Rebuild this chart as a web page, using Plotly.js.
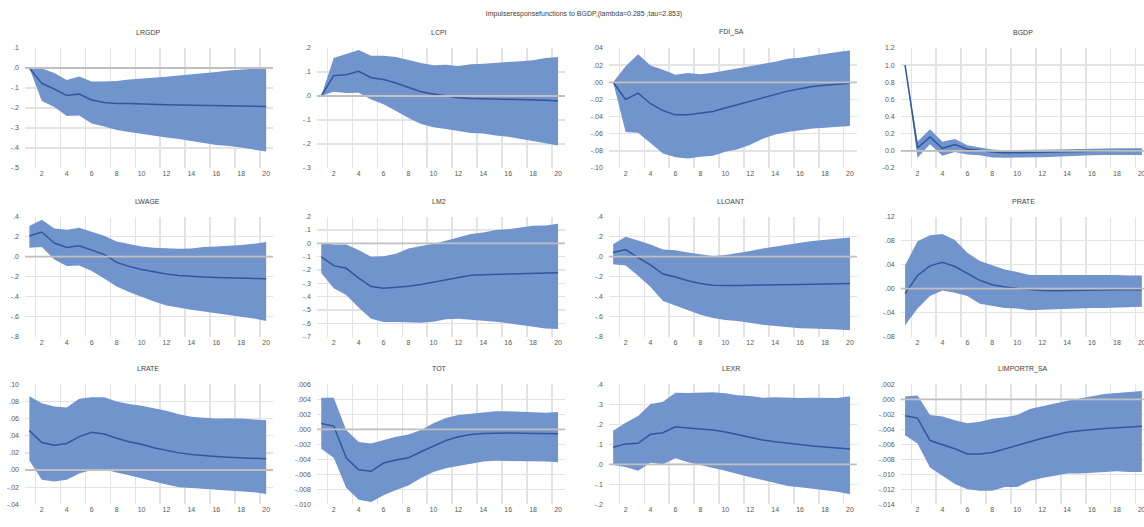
<!DOCTYPE html>
<html>
<head>
<meta charset="utf-8">
<script src="https://cdn.plot.ly/plotly-3.0.1.min.js"></script>
<style>
  html, body { margin: 0; padding: 0; background: #ffffff; }
  #chart { width: 1144px; height: 527px; }
</style>
</head>
<body>
<div id="chart"></div>
<script>
// ---------------- DATA ----------------
const periods = [1,2,3,4,5,6,7,8,9,10,11,12,13,14,15,16,17,18,19,20];
const xTickVals = [2,4,6,8,10,12,14,16,18,20];
const xTickText = ['2','4','6','8','10','12','14','16','18','20'];
const xGridVals = [1.5,3.5,5.5,7.5,9.5,11.5,13.5,15.5,17.5,19.5];

const mainTitle = 'Impulseresponsefunctions to BGDP,(lambda=0.285 ,tau=2.853)';
const panelNames = ['LRGDP','LCPI','FDI_SA','BGDP','LWAGE','LM2','LLOANT','PRATE','LRATE','TOT','LEXR','LIMPORTR_SA'];

// LRGDP
const LRGDP_mean = [0,-0.077,-0.105,-0.138,-0.130,-0.160,-0.172,-0.177,-0.178,-0.181,-0.183,-0.184,-0.185,-0.186,-0.187,-0.188,-0.189,-0.190,-0.191,-0.192];
const LRGDP_hi   = [0,-0.002,-0.025,-0.060,-0.043,-0.067,-0.068,-0.065,-0.058,-0.054,-0.050,-0.044,-0.038,-0.033,-0.027,-0.020,-0.013,-0.008,-0.004,0.005];
const LRGDP_lo   = [0,-0.165,-0.195,-0.240,-0.238,-0.278,-0.293,-0.310,-0.320,-0.330,-0.338,-0.347,-0.355,-0.365,-0.377,-0.385,-0.390,-0.397,-0.408,-0.417];
const LRGDP_yticks = [0.1,0,-0.1,-0.2,-0.3,-0.4,-0.5];
const LRGDP_ylabels = ['.1','.0','-.1','-.2','-.3','-.4','-.5'];

// LCPI
const LCPI_mean = [0,0.085,0.089,0.103,0.076,0.069,0.054,0.035,0.018,0.008,0.000,-0.007,-0.010,-0.011,-0.013,-0.014,-0.015,-0.017,-0.018,-0.021];
const LCPI_hi   = [0,0.158,0.175,0.192,0.168,0.168,0.162,0.149,0.137,0.128,0.130,0.125,0.132,0.134,0.139,0.142,0.145,0.149,0.158,0.162];
const LCPI_lo   = [0,0.018,0.013,0.014,-0.015,-0.034,-0.062,-0.092,-0.117,-0.130,-0.137,-0.145,-0.154,-0.156,-0.165,-0.170,-0.180,-0.189,-0.197,-0.206];
const LCPI_yticks = [0.2,0.1,0,-0.1,-0.2,-0.3];
const LCPI_ylabels = ['.2','.1','.0','-.1','-.2','-.3'];

// FDI_SA
const FDI_SA_mean = [0,-0.020,-0.0127,-0.025,-0.033,-0.038,-0.0378,-0.036,-0.034,-0.030,-0.026,-0.022,-0.018,-0.014,-0.0103,-0.0076,-0.005,-0.0036,-0.0024,-0.0012];
const FDI_SA_hi   = [0,0.0187,0.0326,0.0195,0.0147,0.0088,0.0107,0.0095,0.011,0.0135,0.016,0.019,0.0215,0.024,0.0275,0.0287,0.031,0.0334,0.0354,0.037];
const FDI_SA_lo   = [0,-0.058,-0.059,-0.071,-0.083,-0.0876,-0.0888,-0.0868,-0.0856,-0.081,-0.078,-0.073,-0.066,-0.061,-0.058,-0.056,-0.054,-0.053,-0.052,-0.051];
const FDI_SA_yticks = [0.04,0.02,0,-0.02,-0.04,-0.06,-0.08,-0.10];
const FDI_SA_ylabels = ['.04','.02','.00','-.02','-.04','-.06','-.08','-.10'];

// BGDP
const BGDP_mean = [1.0,0.035,0.163,0.030,0.075,0.020,0.008,-0.012,-0.023,-0.023,-0.020,-0.016,-0.012,-0.008,-0.004,0.000,0.003,0.004,0.004,0.005];
const BGDP_hi   = [1.0,0.110,0.253,0.105,0.137,0.066,0.040,0.015,0.007,0.007,0.007,0.011,0.015,0.020,0.024,0.027,0.030,0.030,0.030,0.030];
const BGDP_lo   = [1.0,-0.080,0.077,-0.057,-0.012,-0.043,-0.050,-0.078,-0.080,-0.080,-0.078,-0.074,-0.070,-0.062,-0.055,-0.050,-0.047,-0.047,-0.047,-0.047];
const BGDP_yticks = [1.2,1.0,0.8,0.6,0.4,0.2,0,-0.2];
const BGDP_ylabels = ['1.2','1.0','0.8','0.6','0.4','0.2','0.0','-0.2'];

// LWAGE
const LWAGE_mean = [0.207,0.247,0.137,0.093,0.110,0.070,0.023,-0.057,-0.097,-0.127,-0.153,-0.173,-0.187,-0.197,-0.203,-0.207,-0.210,-0.213,-0.217,-0.220];
const LWAGE_hi   = [0.307,0.370,0.283,0.270,0.290,0.247,0.210,0.153,0.127,0.103,0.090,0.083,0.080,0.083,0.097,0.103,0.107,0.117,0.130,0.147];
const LWAGE_lo   = [0.090,0.097,-0.027,-0.093,-0.087,-0.143,-0.217,-0.297,-0.353,-0.403,-0.447,-0.487,-0.510,-0.530,-0.547,-0.567,-0.583,-0.600,-0.617,-0.643];
const LWAGE_yticks = [0.4,0.2,0,-0.2,-0.4,-0.6,-0.8];
const LWAGE_ylabels = ['.4','.2','.0','-.2','-.4','-.6','-.8'];

// LM2
const LM2_mean = [-0.101,-0.167,-0.187,-0.261,-0.324,-0.337,-0.329,-0.322,-0.309,-0.291,-0.271,-0.253,-0.240,-0.235,-0.233,-0.230,-0.230,-0.228,-0.225,-0.220];
const LM2_hi   = [0.003,-0.008,-0.008,-0.050,-0.101,-0.096,-0.078,-0.038,-0.020,-0.003,0.020,0.046,0.071,0.081,0.101,0.106,0.119,0.132,0.134,0.147];
const LM2_lo   = [-0.223,-0.337,-0.387,-0.481,-0.565,-0.590,-0.590,-0.590,-0.595,-0.587,-0.570,-0.565,-0.572,-0.582,-0.587,-0.600,-0.613,-0.628,-0.638,-0.643];
const LM2_yticks = [0.2,0.1,0,-0.1,-0.2,-0.3,-0.4,-0.5,-0.6,-0.7];
const LM2_ylabels = ['.2','.1','.0','-.1','-.2','-.3','-.4','-.5','-.6','-.7'];

// LLOANT
const LLOANT_mean = [0.041,0.071,-0.010,-0.081,-0.173,-0.203,-0.241,-0.268,-0.285,-0.288,-0.288,-0.285,-0.285,-0.281,-0.278,-0.278,-0.275,-0.275,-0.271,-0.268];
const LLOANT_hi   = [0.125,0.200,0.163,0.122,0.071,0.064,0.041,0.024,0.007,0.017,0.041,0.058,0.081,0.102,0.122,0.139,0.156,0.169,0.183,0.193];
const LLOANT_lo   = [-0.075,-0.088,-0.190,-0.302,-0.444,-0.488,-0.536,-0.580,-0.614,-0.634,-0.644,-0.664,-0.681,-0.692,-0.705,-0.715,-0.719,-0.722,-0.729,-0.736];
const LLOANT_yticks = [0.4,0.2,0,-0.2,-0.4,-0.6,-0.8];
const LLOANT_ylabels = ['.4','.2','.0','-.2','-.4','-.6','-.8'];

// PRATE
const PRATE_mean = [-0.0083,0.022,0.038,0.044,0.037,0.025,0.014,0.0067,0.0028,0.0006,-0.0017,-0.0028,-0.0033,-0.0028,-0.0022,-0.0017,-0.0017,-0.0017,-0.0017,-0.0017];
const PRATE_hi   = [0.039,0.079,0.089,0.091,0.081,0.060,0.046,0.039,0.032,0.028,0.023,0.023,0.023,0.023,0.024,0.024,0.024,0.023,0.022,0.022];
const PRATE_lo   = [-0.061,-0.033,-0.012,-0.0028,-0.0067,-0.012,-0.025,-0.028,-0.032,-0.033,-0.036,-0.035,-0.034,-0.033,-0.032,-0.032,-0.032,-0.031,-0.030,-0.030];
const PRATE_yticks = [0.12,0.08,0.04,0,-0.04,-0.08];
const PRATE_ylabels = ['.12','.08','.04','.00','-.04','-.08'];

// LRATE
const LRATE_mean = [0.046,0.032,0.029,0.031,0.039,0.044,0.042,0.037,0.033,0.030,0.026,0.023,0.020,0.018,0.0165,0.0158,0.015,0.0142,0.0138,0.013];
const LRATE_hi   = [0.086,0.078,0.074,0.073,0.083,0.085,0.085,0.080,0.077,0.075,0.072,0.069,0.065,0.062,0.061,0.060,0.060,0.060,0.059,0.058];
const LRATE_lo   = [0.011,-0.0115,-0.0135,-0.0115,-0.004,0.000,0.001,-0.003,-0.006,-0.010,-0.0135,-0.017,-0.020,-0.021,-0.022,-0.0235,-0.024,-0.025,-0.026,-0.028];
const LRATE_yticks = [0.10,0.08,0.06,0.04,0.02,0,-0.02,-0.04];
const LRATE_ylabels = ['.10','.08','.06','.04','.02','.00','-.02','-.04'];

// TOT
const TOT_mean = [0.00078,0.00043,-0.0038,-0.0054,-0.0056,-0.0045,-0.0041,-0.0038,-0.0030,-0.0022,-0.0015,-0.0010,-0.0007,-0.00057,-0.00048,-0.00048,-0.00052,-0.00057,-0.00057,-0.0006];
const TOT_hi   = [0.0042,0.0042,-0.0001,-0.0017,-0.0019,-0.0014,-0.0010,-0.0007,-0.0001,0.0008,0.0015,0.0019,0.0021,0.0023,0.0024,0.0024,0.0023,0.0023,0.0022,0.0023];
const TOT_lo   = [-0.0026,-0.0038,-0.0078,-0.0094,-0.0097,-0.0088,-0.0081,-0.0075,-0.0065,-0.0057,-0.0052,-0.0049,-0.0047,-0.0043,-0.0042,-0.0042,-0.0043,-0.0043,-0.0043,-0.0044];
const TOT_yticks = [0.006,0.004,0.002,0,-0.002,-0.004,-0.006,-0.008,-0.010];
const TOT_ylabels = ['.006','.004','.002','.000','-.002','-.004','-.006','-.008','-.010'];

// LEXR
const LEXR_mean = [0.085,0.102,0.105,0.150,0.158,0.188,0.182,0.178,0.172,0.162,0.148,0.135,0.122,0.113,0.105,0.098,0.092,0.087,0.082,0.077];
const LEXR_hi   = [0.168,0.208,0.242,0.302,0.313,0.358,0.357,0.358,0.360,0.355,0.345,0.342,0.333,0.335,0.333,0.332,0.333,0.332,0.332,0.340];
const LEXR_lo   = [-0.003,-0.013,-0.032,0.008,0.000,0.030,0.010,-0.003,-0.017,-0.032,-0.048,-0.065,-0.078,-0.092,-0.108,-0.115,-0.122,-0.128,-0.137,-0.150];
const LEXR_yticks = [0.4,0.3,0.2,0.1,0,-0.1,-0.2];
const LEXR_ylabels = ['.4','.3','.2','.1','.0','-.1','-.2'];

// LIMPORTR_SA
const LIMPORTR_SA_mean = [-0.0022,-0.0025,-0.0055,-0.0060,-0.0066,-0.0073,-0.0073,-0.0071,-0.0066,-0.0061,-0.0057,-0.0052,-0.0048,-0.0044,-0.0042,-0.0040,-0.0039,-0.0038,-0.0037,-0.0036];
const LIMPORTR_SA_hi   = [0.00036,0.0005,-0.0021,-0.0023,-0.0028,-0.0032,-0.0030,-0.0026,-0.0024,-0.0021,-0.0013,-0.0009,-0.0005,-0.0002,0.0001,0.00036,0.0007,0.00085,0.00094,0.0011];
const LIMPORTR_SA_lo   = [-0.0048,-0.0059,-0.0091,-0.0102,-0.0113,-0.0120,-0.0122,-0.0122,-0.0117,-0.0117,-0.0109,-0.0105,-0.0102,-0.0099,-0.0099,-0.0098,-0.0096,-0.0096,-0.0097,-0.0097];
const LIMPORTR_SA_yticks = [0.002,0,-0.002,-0.004,-0.006,-0.008,-0.010,-0.012,-0.014];
const LIMPORTR_SA_ylabels = ['.002','.000','-.002','-.004','-.006','-.008','-.010','-.012','-.014'];

const panels = [
  [LRGDP_mean, LRGDP_lo, LRGDP_hi, LRGDP_yticks, LRGDP_ylabels],
  [LCPI_mean, LCPI_lo, LCPI_hi, LCPI_yticks, LCPI_ylabels],
  [FDI_SA_mean, FDI_SA_lo, FDI_SA_hi, FDI_SA_yticks, FDI_SA_ylabels],
  [BGDP_mean, BGDP_lo, BGDP_hi, BGDP_yticks, BGDP_ylabels],
  [LWAGE_mean, LWAGE_lo, LWAGE_hi, LWAGE_yticks, LWAGE_ylabels],
  [LM2_mean, LM2_lo, LM2_hi, LM2_yticks, LM2_ylabels],
  [LLOANT_mean, LLOANT_lo, LLOANT_hi, LLOANT_yticks, LLOANT_ylabels],
  [PRATE_mean, PRATE_lo, PRATE_hi, PRATE_yticks, PRATE_ylabels],
  [LRATE_mean, LRATE_lo, LRATE_hi, LRATE_yticks, LRATE_ylabels],
  [TOT_mean, TOT_lo, TOT_hi, TOT_yticks, TOT_ylabels],
  [LEXR_mean, LEXR_lo, LEXR_hi, LEXR_yticks, LEXR_ylabels],
  [LIMPORTR_SA_mean, LIMPORTR_SA_lo, LIMPORTR_SA_hi, LIMPORTR_SA_yticks, LIMPORTR_SA_ylabels]
];

// ---------------- LAYOUT GEOMETRY ----------------
const W = 1144, H = 527;
const colLeft = [25, 316.9, 608.8, 900.7];
const rowTop = [48, 216.7, 384.3];
const plotW = 248, plotH = 120;
const xMin = 0.65, xMax = 20.55;
const pxPerUnit = plotW / (xMax - xMin);

const FONT = 'Liberation Sans, Arial, sans-serif';
const bandColor = 'rgb(114,148,204)';
const lineColor = 'rgb(47,87,160)';
const gridColor = '#E3E3E3';
const tickColor = '#595959';

const traces = [];
const layout = {
  width: W, height: H,
  margin: {l: 0, r: 0, t: 0, b: 0, pad: 0},
  paper_bgcolor: '#ffffff',
  plot_bgcolor: '#ffffff',
  showlegend: false,
  font: {family: FONT, size: 7, color: tickColor},
  title: {
    text: mainTitle,
    x: 584 / W, xanchor: 'center',
    y: 1 - 14 / H, yanchor: 'middle',
    font: {family: FONT, size: 7, color: '#404040'}
  },
  annotations: [],
  shapes: []
};

panels.forEach((p, i) => {
  const [mean, lo, hi, yt, yl] = p;
  const r = Math.floor(i / 4), c = i % 4;
  const n = i + 1;
  const xa = n === 1 ? 'x' : 'x' + n;
  const ya = n === 1 ? 'y' : 'y' + n;
  const xKey = n === 1 ? 'xaxis' : 'xaxis' + n;
  const yKey = n === 1 ? 'yaxis' : 'yaxis' + n;

  const left = colLeft[c];
  const right = Math.min(left + plotW, W);
  const xr = [xMin, xMin + (right - left) / pxPerUnit];
  const top = rowTop[r], bottom = rowTop[r] + plotH;

  layout[xKey] = {
    domain: [left / W, right / W],
    range: xr,
    anchor: ya,
    tickmode: 'array',
    tickvals: xTickVals,
    ticktext: xTickText,
    showgrid: false,
    zeroline: false,
    showline: false,
    ticks: '',
    ticklabeloverflow: 'allow',
    tickfont: {family: FONT, size: 7, color: tickColor},
    minor: {tickmode: 'array', tickvals: xGridVals, showgrid: true, gridcolor: gridColor, gridwidth: 1.5, ticks: ''},
    fixedrange: true
  };
  layout[yKey] = {
    domain: [1 - bottom / H, 1 - top / H],
    range: [yt[yt.length - 1], yt[0]],
    anchor: xa,
    tickmode: 'array',
    tickvals: yt,
    ticktext: yl,
    showgrid: true,
    gridcolor: gridColor,
    gridwidth: 1.3,
    zeroline: false,
    showline: false,
    ticks: '',
    ticklabelstandoff: 5,
    tickfont: {family: FONT, size: 7, color: tickColor},
    fixedrange: true
  };

  traces.push({
    x: periods, y: lo, xaxis: xa, yaxis: ya, type: 'scatter', mode: 'lines',
    line: {width: 0, color: bandColor}, hoverinfo: 'skip'
  });
  traces.push({
    x: periods, y: hi, xaxis: xa, yaxis: ya, type: 'scatter', mode: 'lines',
    fill: 'tonexty', fillcolor: bandColor,
    line: {width: 0, color: bandColor}, hoverinfo: 'skip'
  });
  traces.push({
    x: periods, y: mean, xaxis: xa, yaxis: ya, type: 'scatter', mode: 'lines',
    line: {width: 1.5, color: lineColor}
  });

  layout.shapes.push({
    type: 'line', layer: 'above',
    xref: xa + ' domain', x0: 0, x1: 1,
    yref: ya, y0: 0, y1: 0,
    line: {color: '#BFBFBF', width: 1.8}
  });

  layout.annotations.push({
    text: panelNames[i],
    xref: 'paper', yref: 'paper',
    x: (left + plotW / 2 - 1.5) / W,
    y: 1 - (top - 15.5) / H,
    xanchor: 'center', yanchor: 'middle',
    showarrow: false,
    font: {family: FONT, size: 7, color: '#404040'}
  });
});

Plotly.newPlot('chart', traces, layout, {displayModeBar: false, staticPlot: true});
</script>
</body>
</html>
